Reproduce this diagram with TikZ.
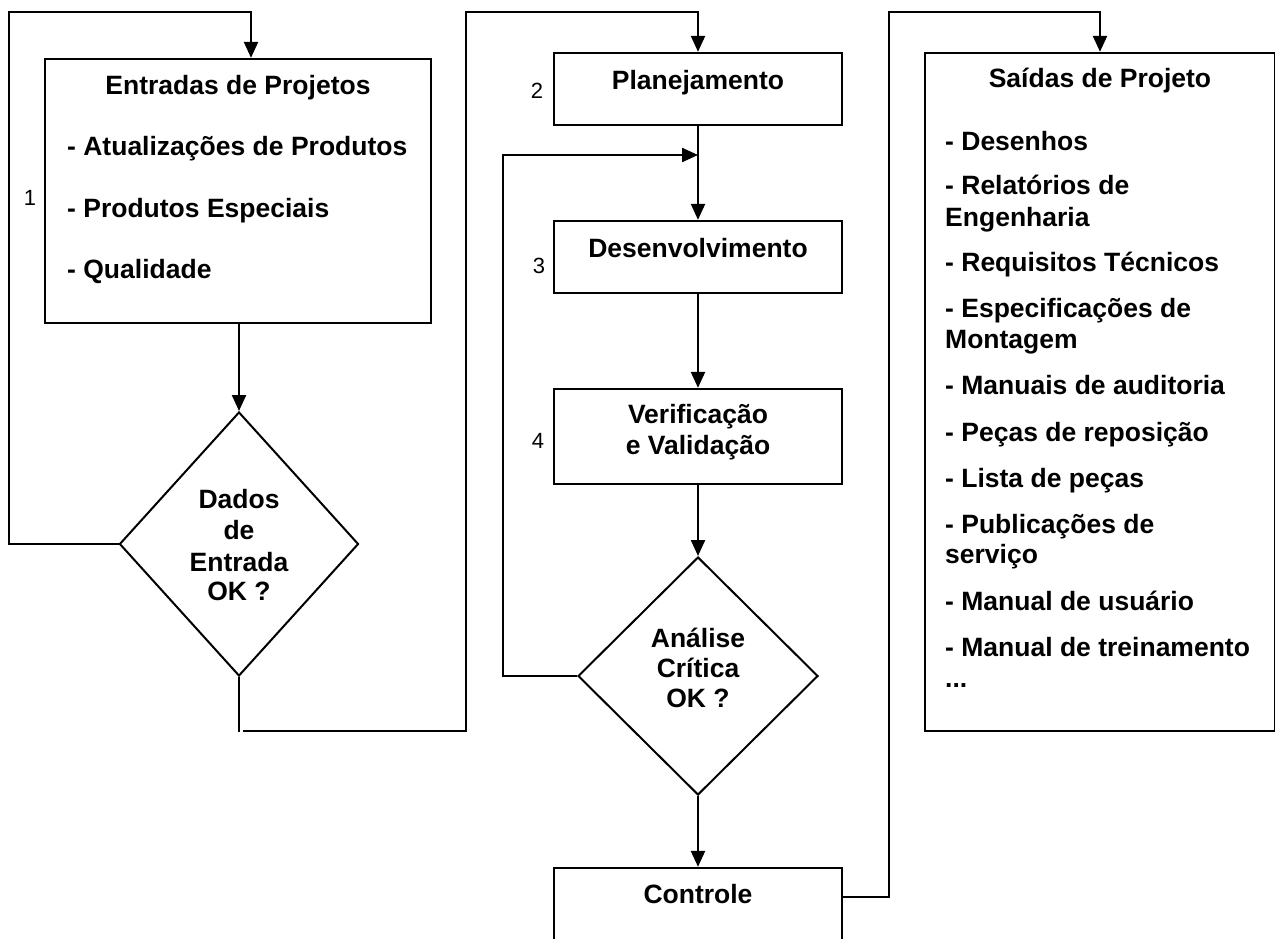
\documentclass[tikz,border=0pt]{standalone}
\usepackage{fontspec}
\setmainfont{Liberation Sans}
\usetikzlibrary{arrows.meta,shapes.geometric}
\begin{document}
\begin{tikzpicture}[x=1pt,y=-1pt,
  box/.style={draw, rectangle, inner sep=0pt, line width=2.3pt},
  decision/.style={draw, diamond, inner sep=0pt, line width=2pt},
  flow/.style={line width=2.3pt, -{Triangle[length=16pt,width=14pt]}},
  link/.style={line width=2.3pt},
  lbl/.style={inner sep=0pt, font=\bfseries\fontsize{26.5}{30}\selectfont},
  num/.style={inner sep=0pt, font=\fontsize{22}{25}\selectfont}]
\clip (0,0) rectangle (1275,939);
\fill[white] (0,0) rectangle (1275,939);

% ---- shapes ----
\node[box, minimum width=386pt, minimum height=264pt] (in1) at (238,191) {};
\node[decision, minimum width=239pt, minimum height=264pt] (d1) at (239,544) {};
\node[box, minimum width=288pt, minimum height=72pt] (plan) at (698,89) {};
\node[box, minimum width=288pt, minimum height=72pt] (dev) at (698,257) {};
\node[box, minimum width=288pt, minimum height=95pt] (ver) at (698,436.5) {};
\node[decision, minimum width=240pt, minimum height=238pt] (d2) at (698,676) {};
\node[box, minimum width=288pt, minimum height=100pt] (ctl) at (698,918) {};
\node[box, minimum width=350pt, minimum height=678pt] (out) at (1100,392) {};

% ---- texts ----
\node[lbl, anchor=base] (t-in) at (238,95) {Entradas de Projetos};
\node[lbl, anchor=base west] (t-in1) at (67,156) {- Atualizações de Produtos};
\node[lbl, anchor=base west] (t-in2) at (67,218) {- Produtos Especiais};
\node[lbl, anchor=base west] (t-in3) at (67,278) {- Qualidade};

\node[lbl, anchor=base] (t-d1a) at (239,508) {Dados};
\node[lbl, anchor=base] (t-d1b) at (239,539) {de};
\node[lbl, anchor=base] (t-d1c) at (239,571) {Entrada};
\node[lbl, anchor=base] (t-d1d) at (239,600) {OK ?};

\node[lbl, anchor=base] (t-plan) at (698,90) {Planejamento};
\node[lbl, anchor=base] (t-dev) at (698,257) {Desenvolvimento};
\node[lbl, anchor=base] (t-ver1) at (698,423) {Verificação};
\node[lbl, anchor=base] (t-ver2) at (698,454) {e Validação};
\node[lbl, anchor=base] (t-d2a) at (698,647) {Análise};
\node[lbl, anchor=base] (t-d2b) at (698,677) {Crítica};
\node[lbl, anchor=base] (t-d2c) at (698,707) {OK ?};
\node[lbl, anchor=base] (t-ctl) at (698,903) {Controle};

\node[lbl, anchor=base] (t-out) at (1100,88) {Saídas de Projeto};
\node[lbl, anchor=base west] (o1) at (945,150) {- Desenhos};
\node[lbl, anchor=base west] (o2) at (945,194) {- Relatórios de};
\node[lbl, anchor=base west] (o2b) at (945,226) {Engenharia};
\node[lbl, anchor=base west] (o3) at (945,271) {- Requisitos Técnicos};
\node[lbl, anchor=base west] (o4) at (945,317) {- Especificações de};
\node[lbl, anchor=base west] (o4b) at (945,348) {Montagem};
\node[lbl, anchor=base west] (o5) at (945,394) {- Manuais de auditoria};
\node[lbl, anchor=base west] (o6) at (945,441) {- Peças de reposição};
\node[lbl, anchor=base west] (o7) at (945,487) {- Lista de peças};
\node[lbl, anchor=base west] (o8) at (945,533) {- Publicações de};
\node[lbl, anchor=base west] (o8b) at (945,563) {serviço};
\node[lbl, anchor=base west] (o9) at (945,610) {- Manual de usuário};
\node[lbl, anchor=base west] (o10) at (945,656) {- Manual de treinamento};
\node[lbl, anchor=base west] (o11) at (945,687) {...};

\node[num, anchor=base] (n1) at (30,205) {1};
\node[num, anchor=base] (n2) at (537,99) {2};
\node[num, anchor=base] (n3) at (539,273) {3};
\node[num, anchor=base] (n4) at (538,448) {4};

% ---- routing points ----
\coordinate (k1) at (9,12);
\coordinate (b1) at (239,732);
\coordinate (b2) at (243,731);
\coordinate (k2) at (466,12);
\coordinate (k3) at (503,155);
\coordinate (k4) at (889,12);

% ---- connectors ----
\draw[flow] (d1.west) -| (k1) -| ([xshift=13pt]in1.north);
\draw[flow] (in1.south -| d1.north) -- (d1.north);
\draw[link] (d1.south) -- (b1);
\draw[flow] (b2) -| (k2) -| (plan.north);
\draw[flow] (plan.south) -- (dev.north);
\draw[flow] (d2.west) -| (k3) -- (k3 -| plan.south);
\draw[flow] (dev.south) -- (ver.north);
\draw[flow] (ver.south) -- (d2.north);
\draw[flow] (d2.south) -- (ctl.north);
\draw[flow] ([yshift=-30pt]ctl.north east) -| (k4) -| (out.north);
\end{tikzpicture}
\end{document}
